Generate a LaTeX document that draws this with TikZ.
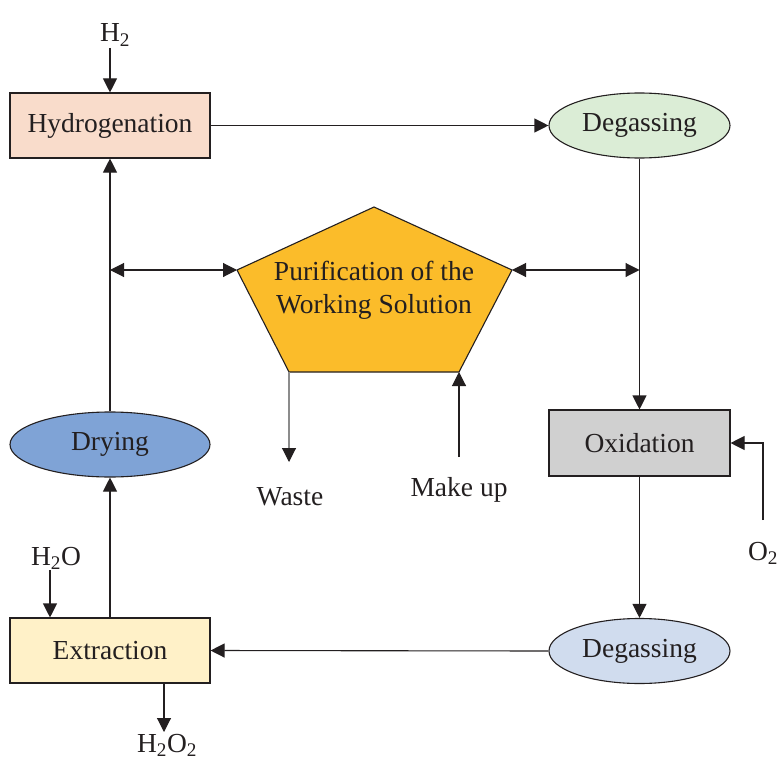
\documentclass[tikz,border=0pt]{standalone}
\usepackage{fontspec}
\setmainfont{Liberation Serif}
\usetikzlibrary{arrows.meta,shapes.geometric}
\definecolor{hydc}{HTML}{F9DCCB}
\definecolor{degA}{HTML}{DBEDD6}
\definecolor{purc}{HTML}{FBBC2A}
\definecolor{oxc}{HTML}{D0D0D0}
\definecolor{degB}{HTML}{D0DCEE}
\definecolor{dryc}{HTML}{7FA3D6}
\definecolor{extc}{HTML}{FFF1C8}
\definecolor{linec}{HTML}{231F20}
\tikzset{
  txt/.style={font=\fontsize{27.5}{33.3}\selectfont, text=linec},
  boxnode/.style={txt, draw=linec, line width=1.1pt, rectangle, minimum width=200pt, minimum height=65pt, inner sep=0pt},
  ellnode/.style={txt, draw=linec, line width=1.1pt, ellipse, minimum width=181pt, minimum height=65pt, inner sep=0pt},
  arr/.style={draw=linec, line width=1.1pt, -{Triangle[length=14pt,width=14pt,color=linec]}},
  darr/.style={draw=linec, line width=1.1pt, {Triangle[length=14pt,width=14pt,color=linec]}-{Triangle[length=14pt,width=14pt,color=linec]}},
  garr/.style={draw=gray!90, line width=1.1pt, -{Triangle[length=14pt,width=14pt,color=linec]}},
  lbl/.style={txt, inner sep=0pt}
}
\begin{document}
\begin{tikzpicture}[x=1pt,y=-1pt]
\useasboundingbox (0,0) rectangle (779,760);
% process nodes
\node[boxnode, fill=hydc] (hyd) at (110,125.5) {Hydrogenation};
\node[ellnode, fill=degA] (deg1) at (639.5,125.5) {Degassing};
\node[boxnode, fill=oxc, minimum width=181pt, minimum height=66pt] (ox) at (639.5,443) {Oxidation};
\node[ellnode, fill=degB] (deg2) at (639.5,651) {Degassing};
\node[boxnode, fill=extc] (ext) at (110,650.5) {Extraction};
\node[ellnode, fill=dryc, minimum width=200pt] (dry) at (110,444.5) {Drying};
% pentagon
\coordinate (pT) at (374,207);
\coordinate (pL) at (237,270);
\coordinate (pR) at (512,270);
\coordinate (pBL) at (289,372);
\coordinate (pBR) at (459,372);
\draw[linec, line width=1.1pt, fill=purc] (pT) -- (pR) -- (pBR) -- (pBL) -- (pL) -- cycle;
\node[txt, align=center, inner sep=0pt] (pur) at (374,290) {Purification of the\\Working Solution};
% labels
\node[lbl] (h2) at (115,35) {H\textsubscript{2}};
\node[lbl] (o2) at (763,553) {O\textsubscript{2}};
\node[lbl] (h2o) at (56,558) {H\textsubscript{2}O};
\node[lbl] (h2o2) at (167,745) {H\textsubscript{2}O\textsubscript{2}};
\node[lbl] (waste) at (290,497) {Waste};
\node[lbl] (makeup) at (459,490) {Make up};
% free ends
\coordinate (h2in) at (110,48);
\coordinate (o2in) at (763,520);
\coordinate (h2oin) at (50,570);
\coordinate (h2o2out) at (164,732);
\coordinate (wasteout) at (289,462);
\coordinate (makein) at (459,457);
\coordinate (jl) at (110,270);
\coordinate (jr) at (639.5,270);
% connectors
\draw[arr] (h2in) -- (h2in |- hyd.north);
\draw[arr] (hyd.east) -- (deg1.west);
\draw[arr] (deg1.south) -- (ox.north);
\draw[darr] (pR) -- (jr);
\draw[darr] (jl) -- (pL);
\draw[arr] (o2in) |- (ox.east);
\draw[arr] (ox.south) -- (deg2.north);
\draw[arr] (deg2.west) -- (ext.east);
\draw[arr] (h2oin) -- (h2oin |- ext.north);
\draw[arr] (ext.south -| h2o2out) -- (h2o2out);
\draw[arr] (ext.north) -- (dry.south);
\draw[arr] (dry.north) -- (hyd.south);
\draw[garr] (pBL) -- (wasteout);
\draw[arr] (makein) -- (pBR);
\end{tikzpicture}
\end{document}
